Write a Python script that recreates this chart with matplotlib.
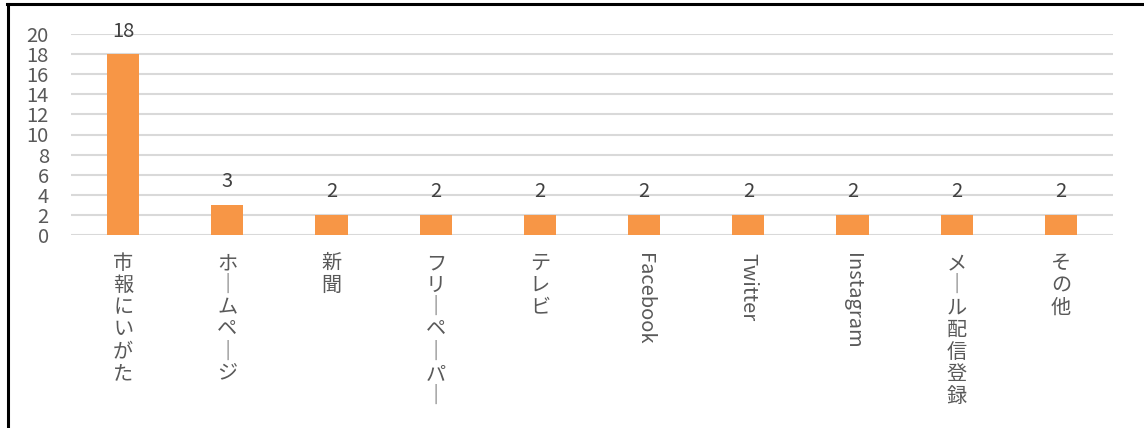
import matplotlib
matplotlib.use("Agg")
import matplotlib.pyplot as plt
from matplotlib.lines import Line2D

plt.rcParams['font.family'] = ['Noto Sans CJK JP', 'DejaVu Sans']

categories = ["市報にいがた", "ホームページ", "新聞", "フリーペーパー", "テレビ",
              "Facebook", "Twitter", "Instagram", "メール配信登録", "その他"]
values = [18, 3, 2, 2, 2, 2, 2, 2, 2, 2]
yticks = [0, 2, 4, 6, 8, 10, 12, 14, 16, 18, 20]

bar_color = "#F79646"
text_color = "#595959"

fig = plt.figure(figsize=(11.44, 4.28), dpi=100)
ax = fig.add_axes([71/1144, 1-235/428, (1113-71)/1144, (235-34)/428])

x = list(range(len(categories)))
bars = ax.bar(x, values, width=0.31, color=bar_color, zorder=3)
for xi, v in zip(x, values):
    ax.annotate(str(v), (xi, v), xytext=(0, 9), textcoords="offset points",
                ha="center", va="bottom", fontsize=14.5, color="#404040")

ax.set_ylim(0, 20)
ax.set_xlim(-0.5, len(categories) - 0.5)
ax.set_yticks(yticks)
ax.set_yticklabels([str(t) for t in yticks], fontsize=14.5, color=text_color)
ax.yaxis.grid(True, color="#D9D9D9", linewidth=1.5, zorder=0)
ax.tick_params(axis="y", length=0, pad=16)
ax.tick_params(axis="x", length=0, pad=13)
for s in ax.spines.values():
    s.set_visible(False)


def is_latin(s):
    return all(ord(c) < 128 for c in s)


def vertical(s):
    return "\n".join("｜" if c == "ー" else c for c in s)


ax.set_xticks(x)
labels = [lab if is_latin(lab) else vertical(lab) for lab in categories]
ax.set_xticklabels(labels)
for t, lab in zip(ax.get_xticklabels(), categories):
    t.set_color(text_color)
    t.set_va("top")
    t.set_ha("center")
    t.set_fontsize(14.5)
    if is_latin(lab):
        t.set_rotation(-90)
    else:
        t.set_linespacing(1.07)

# outer frame (left and top)
fig.add_artist(Line2D([8/1144, 8/1144], [0, 1-4/428], transform=fig.transFigure,
                      color="black", linewidth=2.2))
fig.add_artist(Line2D([7/1144, 1], [1-4/428, 1-4/428], transform=fig.transFigure,
                      color="black", linewidth=2.2))

fig.savefig("out.png", dpi=100)
